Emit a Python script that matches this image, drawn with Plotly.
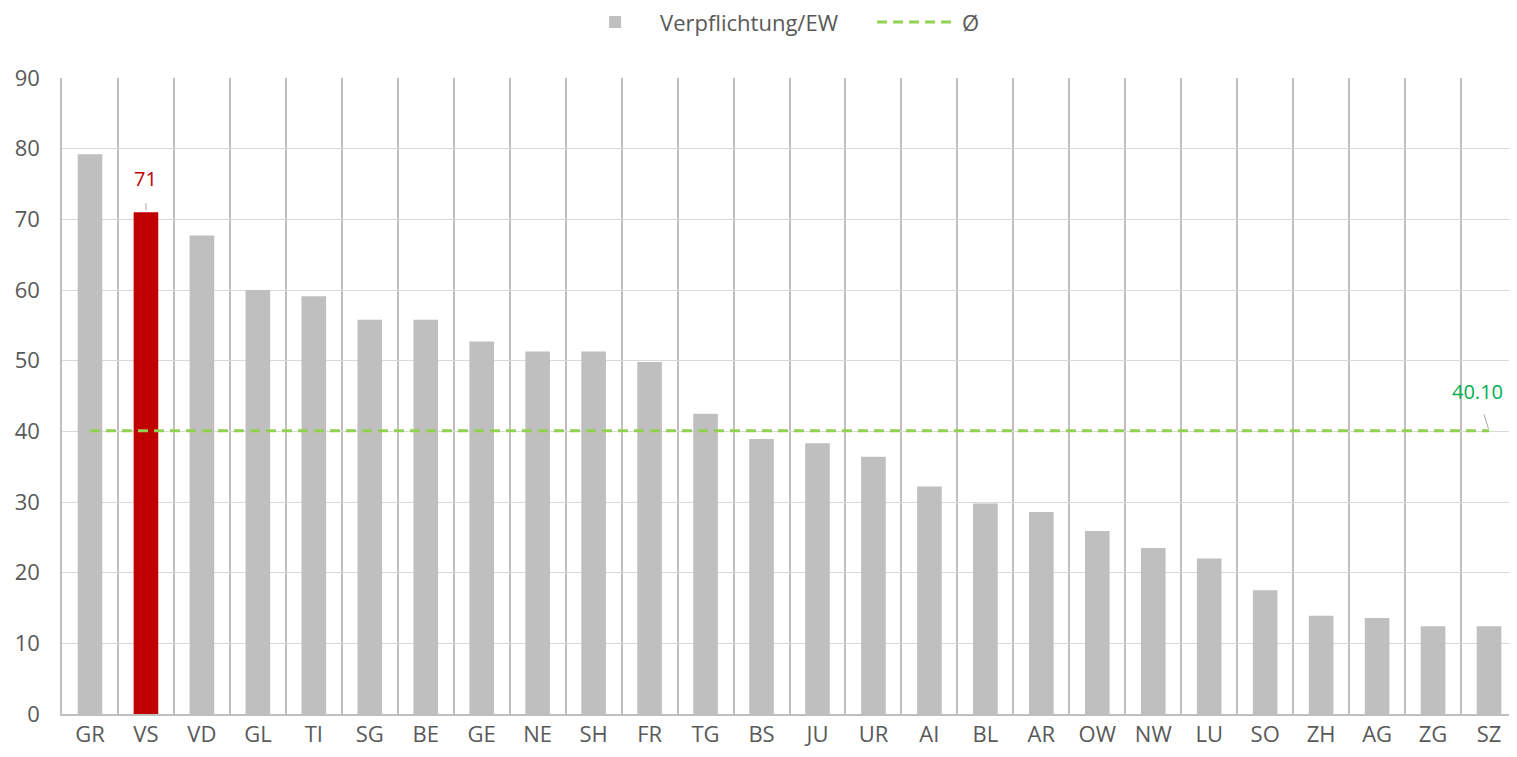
import plotly.graph_objects as go

categories = ["GR", "VS", "VD", "GL", "TI", "SG", "BE", "GE", "NE", "SH", "FR", "TG", "BS",
              "JU", "UR", "AI", "BL", "AR", "OW", "NW", "LU", "SO", "ZH", "AG", "ZG", "SZ"]
verpflichtung = [79.2, 71.0, 67.7, 60.0, 59.1, 55.8, 55.8, 52.7, 51.3, 51.3, 49.8, 42.5, 38.9,
                 38.3, 36.4, 32.2, 29.8, 28.6, 25.9, 23.5, 22.0, 17.5, 13.9, 13.6, 12.4, 12.4]
mean_value = 40.10
mean_series = [mean_value] * len(categories)
highlight = "VS"
y_ticks = [0, 10, 20, 30, 40, 50, 60, 70, 80, 90]

GREY = "#bfbfbf"
RED = "#c00000"
TEXT = "#595959"
FONT = "Open Sans"
FS = 22

bar_colors = [RED if c == highlight else GREY for c in categories]

fig = go.Figure()
fig.add_trace(go.Bar(
    x=categories, y=verpflichtung, name="Verpflichtung/EW",
    marker=dict(color=bar_colors, line=dict(width=0)),
    width=0.44,
))
fig.add_trace(go.Scatter(
    x=categories, y=mean_series, name="Ø", mode="lines",
    line=dict(color="#92d050", width=3, dash="10px,6px"),
))

hi_idx = categories.index(highlight)
fig.add_annotation(
    x=highlight, y=verpflichtung[hi_idx], text=f"{verpflichtung[hi_idx]:.0f}",
    showarrow=True, arrowhead=0, arrowcolor="#a6a6a6", arrowwidth=1,
    ax=0, ay=-34, standoff=2, startstandoff=10,
    font=dict(family=FONT, size=20, color=RED),
)
fig.add_annotation(
    x=categories[-1], y=mean_value, text=f"{mean_value:.2f}",
    showarrow=True, arrowhead=0, arrowcolor="#a6a6a6", arrowwidth=1,
    ax=-12, ay=-39, standoff=2, startstandoff=8,
    font=dict(family=FONT, size=20, color="#00b050"),
)

fig.update_layout(
    width=1509, height=749,
    margin=dict(l=54, r=0, t=70, b=43, autoexpand=False),
    paper_bgcolor="white", plot_bgcolor="white",
    font=dict(family=FONT, size=FS, color=TEXT),
    bargap=0.56,
    showlegend=True,
    legend=dict(orientation="h", xref="container", yref="container",
                x=0.3725, y=0.981, xanchor="left", yanchor="middle",
                font=dict(family=FONT, size=FS, color=TEXT),
                itemwidth=80, entrywidth=207, entrywidthmode="pixels",
                tracegroupgap=0),
    xaxis=dict(type="category", tickson="boundaries", showgrid=True,
               gridcolor="#bfbfbf", gridwidth=1.5,
               showline=True, linecolor="#bfbfbf", linewidth=1.5,
               ticks="outside", ticklen=21, tickcolor="rgba(0,0,0,0)",
               tickfont=dict(family=FONT, size=FS, color=TEXT),
               automargin=False,
               range=[-0.5, len(categories) - 0.5], fixedrange=True),
    yaxis=dict(range=[0, 90], tickvals=y_ticks, showgrid=True,
               gridcolor="#d9d9d9", gridwidth=1, zeroline=False,
               showline=True, linecolor="#bfbfbf", linewidth=1.5,
               ticks="outside", ticklen=16, tickcolor="rgba(0,0,0,0)",
               automargin=False,
               tickfont=dict(family=FONT, size=FS, color=TEXT)),
)

fig.write_html("out.html")
